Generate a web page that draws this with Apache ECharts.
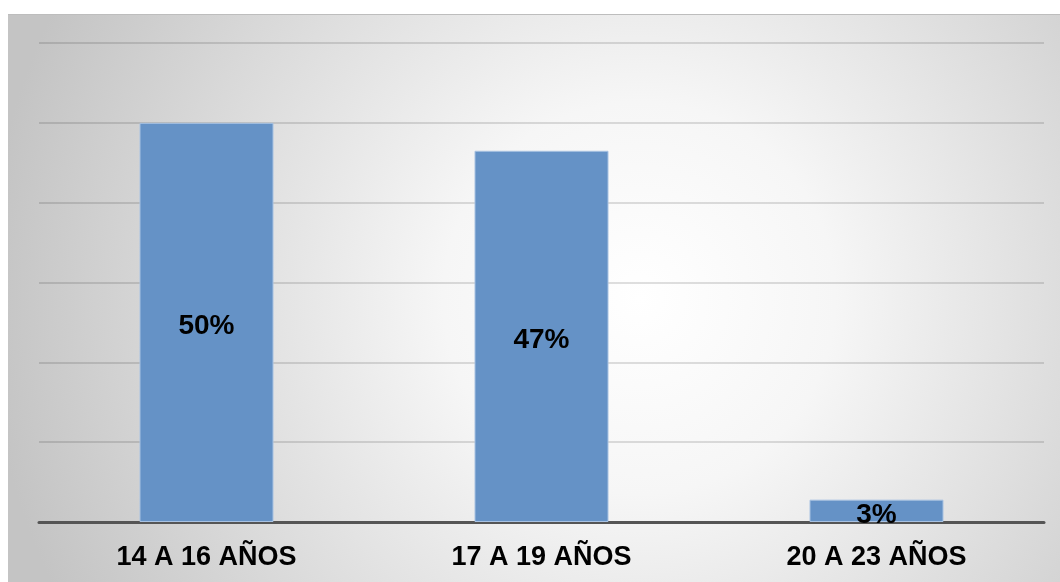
<!DOCTYPE html>
<html>
<head>
<meta charset="utf-8">
<script src="https://cdn.jsdelivr.net/npm/echarts@6/dist/echarts.min.js"></script>
<style>
html,body{margin:0;padding:0;background:#fff;}
#c{width:1060px;height:582px;}
</style>
</head>
<body>
<div id="c"></div>
<script>
const categories = ['14 A 16 AÑOS', '17 A 19 AÑOS', '20 A 23 AÑOS'];
const values = [50, 46.5, 2.8];
const yTicks = [0, 10, 20, 30, 40, 50, 60];

const chart = echarts.init(document.getElementById('c'));
chart.setOption({
  animation: false,
  graphic: [
    {
      type: 'rect', z: -10, silent: true,
      shape: { x: 8, y: 14, width: 1052, height: 568 },
      style: {
        fill: {
          type: 'radial', x: 0.6, y: 0.5, r: 1.15,
          colorStops: [
            { offset: 0, color: '#ffffff' },
            { offset: 0.3, color: '#f6f6f6' },
            { offset: 1, color: '#c4c4c4' }
          ]
        },
        stroke: null
      }
    },
    {
      type: 'line', z: -9, silent: true,
      shape: { x1: 8, y1: 14.5, x2: 1060, y2: 14.5 },
      style: { stroke: '#bdbdbd', lineWidth: 1 }
    }
  ],
  grid: { left: 39, right: 16, top: 43, bottom: 60, containLabel: false },
  xAxis: {
    type: 'category',
    data: categories,
    axisLine: { show: true, lineStyle: { color: '#555555', width: 3 } },
    axisTick: { show: false },
    axisLabel: {
      color: '#000', fontFamily: 'Liberation Sans, Arial, sans-serif',
      fontWeight: 'bold', fontSize: 27, margin: 22
    }
  },
  yAxis: {
    type: 'value', min: yTicks[0], max: yTicks[yTicks.length - 1], interval: 10,
    axisLabel: { show: false },
    axisLine: { show: false },
    axisTick: { show: false },
    splitLine: { lineStyle: { color: 'rgba(0,0,0,0.17)', width: 1.5 } }
  },
  series: [{
    type: 'bar',
    data: values,
    barCategoryGap: '60%',
    itemStyle: { color: '#6592c6', borderColor: '#a8c2e2', borderWidth: 1 },
    label: {
      show: true, position: 'inside', offset: [0, 4],
      color: '#000', fontFamily: 'Liberation Sans, Arial, sans-serif',
      fontWeight: 'bold', fontSize: 28,
      formatter: p => Math.round(p.value) + '%'
    }
  }]
});
</script>
</body>
</html>
